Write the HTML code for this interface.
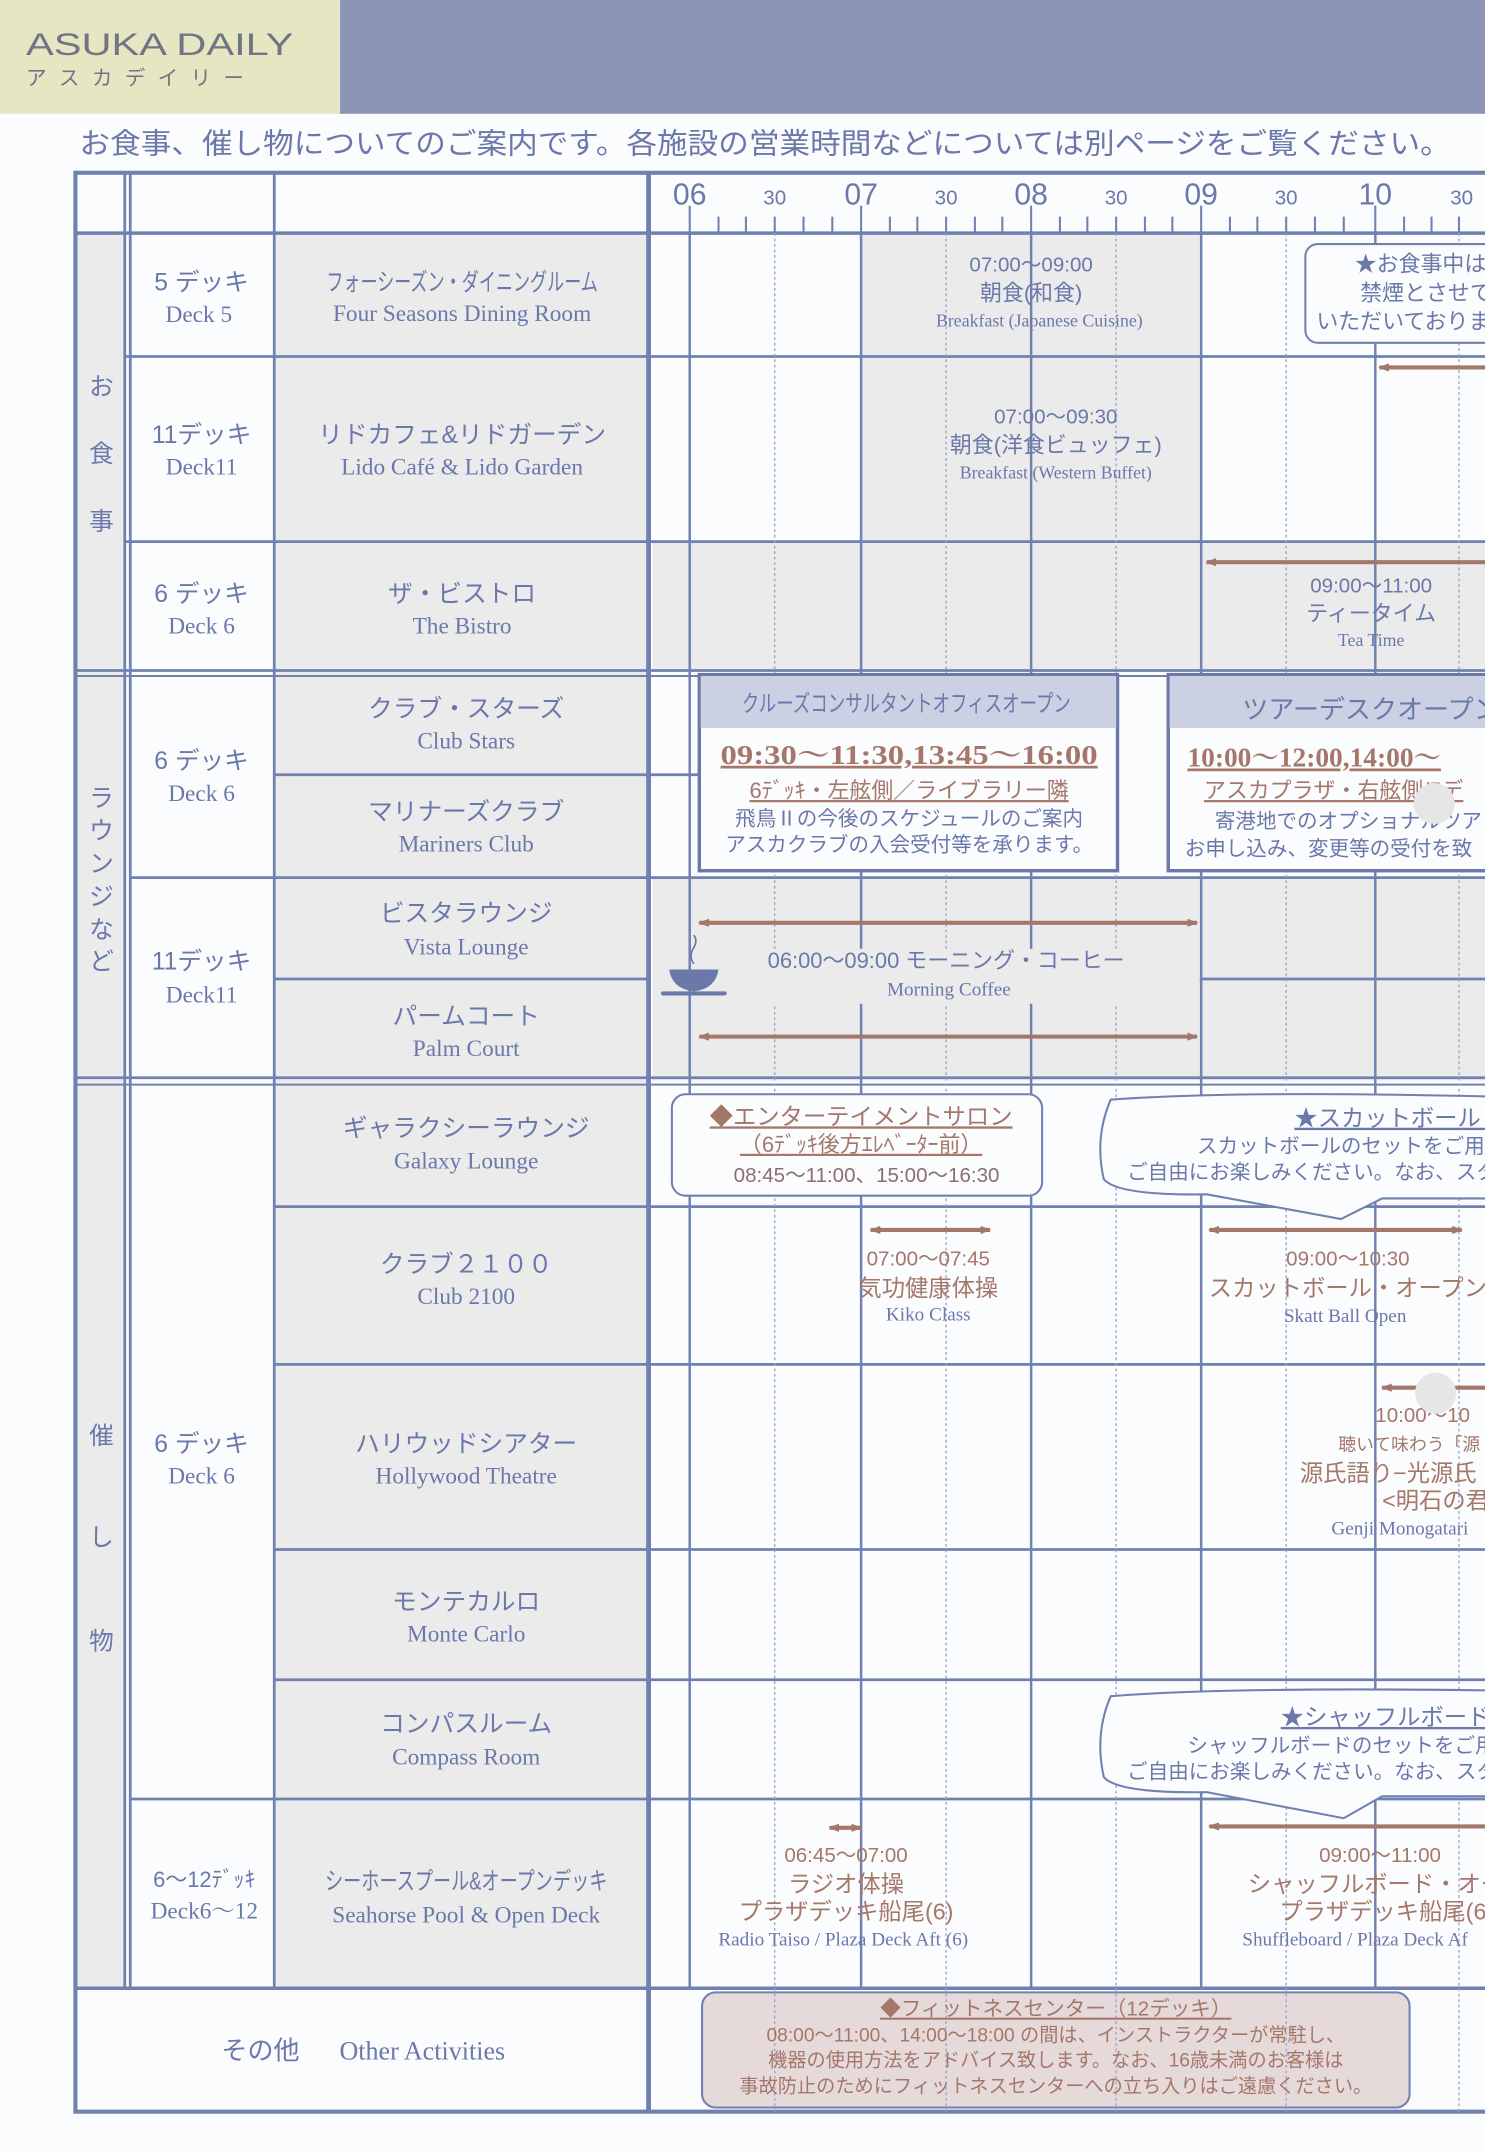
<!DOCTYPE html>
<html><head><meta charset="utf-8"><style>
html,body{margin:0;padding:0;background:#fbfcfe;}
svg{display:block;}
.j{font-family:"Liberation Sans","Noto Sans CJK JP",sans-serif;}
.s{font-family:"Liberation Serif","Noto Serif CJK SC",serif;}
</style></head><body>
<svg width="1485" height="2151" viewBox="0 0 1083 1568.7" preserveAspectRatio="none" xmlns="http://www.w3.org/2000/svg">
<defs>
<marker id="ah" markerWidth="8" markerHeight="6" refX="7" refY="3" orient="auto-start-reverse" markerUnits="userSpaceOnUse"><path d="M0,0 L8,3 L0,6 Z" fill="#a5776a"/></marker>
</defs>
<rect x="0" y="0" width="1083" height="1569" fill="#fbfcfe"/>
<rect x="0" y="0" width="248" height="83" fill="#e6e6c3"/>
<rect x="248" y="0" width="835" height="83" fill="#8c95b5"/>
<text x="19" y="40" class="j" font-size="23" fill="#707585" textLength="195" lengthAdjust="spacingAndGlyphs">ASUKA DAILY</text>
<text x="19" y="62" class="j" font-size="15" fill="#707585" letter-spacing="9">アスカデイリー</text>
<text x="58" y="112" class="j" font-size="21" fill="#6a78aa" textLength="1000" lengthAdjust="spacingAndGlyphs">お食事、催し物についてのご案内です。各施設の営業時間などについては別ページをご覧ください。</text>

<g fill="#ebebec">
<rect x="55" y="170" width="36" height="1280"/>
<rect x="200" y="170" width="272" height="1280"/>
<rect x="628" y="170" width="248" height="90"/>
<rect x="628" y="260" width="248" height="135"/>
<rect x="476" y="395" width="607" height="95"/>
<rect x="476" y="640" width="607" height="148"/>
<rect x="512" y="1453" width="516" height="84" rx="10" fill="#e6d9d9"/>
</g>
<rect x="55" y="1450" width="36" height="90" fill="#fbfcfe"/>
<rect x="91" y="1450" width="381" height="90" fill="#fbfcfe"/>

<g stroke="#7080b0" fill="none">
<rect x="55" y="126" width="1040" height="1414" stroke-width="3"/>
<line x1="91" y1="126" x2="91" y2="1450" stroke-width="2"/>
<line x1="95" y1="126" x2="95" y2="1450" stroke-width="2"/>
<line x1="200" y1="126" x2="200" y2="1450" stroke-width="2"/>
<line x1="473" y1="126" x2="473" y2="1540" stroke-width="3.5"/>
<line x1="55" y1="170" x2="1083" y2="170" stroke-width="2.5"/>
<line x1="91" y1="260" x2="1083" y2="260" stroke-width="2"/>
<line x1="91" y1="395" x2="1083" y2="395" stroke-width="2"/>
<line x1="55" y1="489" x2="1083" y2="489" stroke-width="2"/>
<line x1="55" y1="493" x2="1083" y2="493" stroke-width="1.5"/>
<line x1="200" y1="565" x2="510" y2="565" stroke-width="2"/>
<line x1="95" y1="640" x2="1083" y2="640" stroke-width="2"/>
<line x1="200" y1="714" x2="472" y2="714" stroke-width="2"/>
<line x1="875" y1="714" x2="1083" y2="714" stroke-width="2"/>
<line x1="55" y1="786" x2="1083" y2="786" stroke-width="2"/>
<line x1="55" y1="791" x2="1083" y2="791" stroke-width="1.5"/>
<line x1="200" y1="880" x2="1083" y2="880" stroke-width="2"/>
<line x1="200" y1="995" x2="1083" y2="995" stroke-width="2"/>
<line x1="200" y1="1130" x2="1083" y2="1130" stroke-width="2"/>
<line x1="200" y1="1225" x2="1083" y2="1225" stroke-width="2"/>
<line x1="95" y1="1312" x2="1083" y2="1312" stroke-width="2"/>
<line x1="55" y1="1450" x2="1083" y2="1450" stroke-width="2.5"/>
<g stroke-width="1.8">
<line x1="503" y1="170" x2="503" y2="1450"/><line x1="628" y1="170" x2="628" y2="1450"/>
<line x1="752" y1="170" x2="752" y2="1450"/><line x1="876" y1="170" x2="876" y2="1450"/>
<line x1="1003" y1="170" x2="1003" y2="1450"/>
</g>
<g stroke-width="1" stroke-dasharray="2,2" stroke="#9aa5cc">
<line x1="565" y1="170" x2="565" y2="1540"/><line x1="690" y1="170" x2="690" y2="1540"/>
<line x1="814" y1="170" x2="814" y2="1540"/><line x1="938" y1="170" x2="938" y2="1540"/>
<line x1="1064" y1="170" x2="1064" y2="1540"/>
</g>
<g stroke-width="1.5">
<line x1="503" y1="150" x2="503" y2="170"/><line x1="628" y1="150" x2="628" y2="170"/>
<line x1="752" y1="150" x2="752" y2="170"/><line x1="876" y1="150" x2="876" y2="170"/>
<line x1="1003" y1="150" x2="1003" y2="170"/>
<line x1="524" y1="158" x2="524" y2="170"/><line x1="544" y1="158" x2="544" y2="170"/><line x1="565" y1="158" x2="565" y2="170"/><line x1="586" y1="158" x2="586" y2="170"/><line x1="607" y1="158" x2="607" y2="170"/>
<line x1="649" y1="158" x2="649" y2="170"/><line x1="669" y1="158" x2="669" y2="170"/><line x1="690" y1="158" x2="690" y2="170"/><line x1="711" y1="158" x2="711" y2="170"/><line x1="731" y1="158" x2="731" y2="170"/>
<line x1="773" y1="158" x2="773" y2="170"/><line x1="793" y1="158" x2="793" y2="170"/><line x1="814" y1="158" x2="814" y2="170"/><line x1="835" y1="158" x2="835" y2="170"/><line x1="855" y1="158" x2="855" y2="170"/>
<line x1="897" y1="158" x2="897" y2="170"/><line x1="917" y1="158" x2="917" y2="170"/><line x1="938" y1="158" x2="938" y2="170"/><line x1="959" y1="158" x2="959" y2="170"/><line x1="980" y1="158" x2="980" y2="170"/>
<line x1="1024" y1="158" x2="1024" y2="170"/><line x1="1044" y1="158" x2="1044" y2="170"/><line x1="1064" y1="158" x2="1064" y2="170"/>
</g>
</g>

<g class="j" fill="#6a78aa" text-anchor="middle">
<text x="503" y="149" font-size="22">06</text><text x="628" y="149" font-size="22">07</text>
<text x="752" y="149" font-size="22">08</text><text x="876" y="149" font-size="22">09</text>
<text x="1003" y="149" font-size="22">10</text>
<text x="565" y="149" font-size="15">30</text><text x="690" y="149" font-size="15">30</text>
<text x="814" y="149" font-size="15">30</text><text x="938" y="149" font-size="15">30</text>
<text x="1066" y="149" font-size="15">30</text>
</g>

<g class="j" fill="#6a78aa" font-size="18" text-anchor="middle">
<text x="74" y="288">お</text><text x="74" y="337">食</text><text x="74" y="386">事</text>
<text x="74" y="588">ラ</text><text x="74" y="612">ウ</text><text x="74" y="636">ン</text><text x="74" y="660">ジ</text><text x="74" y="684">な</text><text x="74" y="707">ど</text>
<text x="74" y="1053">催</text><text x="74" y="1127">し</text><text x="74" y="1203">物</text>
</g>

<g fill="#6a78aa" text-anchor="middle">
<g class="j" font-size="18">
<text x="147" y="212">5 デッキ</text><text x="147" y="323">11デッキ</text><text x="147" y="439">6 デッキ</text>
<text x="147" y="561">6 デッキ</text><text x="147" y="707">11デッキ</text><text x="147" y="1059">6 デッキ</text>
<text x="149" y="1376" font-size="16">6〜12ﾃﾞｯｷ</text>
</g>
<g class="s" font-size="17">
<text x="145" y="235">Deck 5</text><text x="147" y="346">Deck11</text><text x="147" y="462">Deck 6</text>
<text x="147" y="584">Deck 6</text><text x="147" y="731">Deck11</text><text x="147" y="1082">Deck 6</text>
<text x="149" y="1399">Deck6〜12</text>
</g>
</g>

<g fill="#6a78aa" text-anchor="middle">
<g class="j" font-size="18">
<text x="337" y="212" textLength="198" lengthAdjust="spacingAndGlyphs">フォーシーズン・ダイニングルーム</text>
<text x="337" y="323">リドカフェ&amp;リドガーデン</text>
<text x="337" y="439">ザ・ビストロ</text>
<text x="340" y="523">クラブ・スターズ</text>
<text x="340" y="598">マリナーズクラブ</text>
<text x="340" y="672">ビスタラウンジ</text>
<text x="340" y="747">パームコート</text>
<text x="340" y="829">ギャラクシーラウンジ</text>
<text x="340" y="928">クラブ２１００</text>
<text x="340" y="1059">ハリウッドシアター</text>
<text x="340" y="1174">モンテカルロ</text>
<text x="340" y="1263">コンパスルーム</text>
<text x="340" y="1378" textLength="206" lengthAdjust="spacingAndGlyphs">シーホースプール&amp;オープンデッキ</text>
</g>
<g class="s" font-size="17">
<text x="337" y="234">Four Seasons Dining Room</text>
<text x="337" y="346">Lido Café &amp; Lido Garden</text>
<text x="337" y="462">The Bistro</text>
<text x="340" y="546">Club Stars</text>
<text x="340" y="621">Mariners Club</text>
<text x="340" y="696">Vista Lounge</text>
<text x="340" y="770">Palm Court</text>
<text x="340" y="852">Galaxy Lounge</text>
<text x="340" y="951">Club 2100</text>
<text x="340" y="1082">Hollywood Theatre</text>
<text x="340" y="1197">Monte Carlo</text>
<text x="340" y="1287">Compass Room</text>
<text x="340" y="1402">Seahorse Pool &amp; Open Deck</text>
</g>
<text x="190" y="1502" class="j" font-size="19">その他</text>
<text x="308" y="1502" class="s" font-size="19">Other Activities</text>
</g>

<g fill="#6a78aa" text-anchor="middle">
<text x="752" y="198" class="j" font-size="15">07:00〜09:00</text>
<text x="752" y="219" class="j" font-size="16">朝食(和食)</text>
<text x="758" y="238" class="s" font-size="13">Breakfast (Japanese Cuisine)</text>
<text x="770" y="309" class="j" font-size="15">07:00〜09:30</text>
<text x="770" y="330" class="j" font-size="16">朝食(洋食ビュッフェ)</text>
<text x="770" y="349" class="s" font-size="13">Breakfast (Western Buffet)</text>
<text x="1000" y="432" class="j" font-size="15">09:00〜11:00</text>
<text x="1000" y="453" class="j" font-size="16">ティータイム</text>
<text x="1000" y="471" class="s" font-size="13">Tea Time</text>
</g>
<rect x="952" y="178" width="140" height="72" rx="9" fill="#fbfcfe" stroke="#7080b0" stroke-width="1.5"/>
<g class="j" fill="#6a78aa" font-size="16">
<text x="988" y="198">★お食事中は</text><text x="992" y="219">禁煙とさせて</text><text x="960" y="240">いただいております</text>
</g>
<g stroke="#a5776a" stroke-width="3" marker-start="url(#ah)" marker-end="url(#ah)">
<line x1="1006" y1="268" x2="1100" y2="268"/>
<line x1="880" y1="410" x2="1100" y2="410"/>
<line x1="510" y1="673" x2="873" y2="673"/>
<line x1="510" y1="756" x2="873" y2="756"/>
<line x1="635" y1="897" x2="722" y2="897"/>
<line x1="882" y1="897" x2="1066" y2="897"/>
<line x1="1008" y1="1012" x2="1100" y2="1012"/>
<line x1="605" y1="1333" x2="628" y2="1333"/>
<line x1="882" y1="1332" x2="1100" y2="1332"/>
</g>

<rect x="510" y="492" width="305" height="143" fill="#fbfcfe" stroke="#6a78aa" stroke-width="2.5"/>
<rect x="511" y="493" width="303" height="38" fill="#cbd1e2"/>
<rect x="852" y="492" width="250" height="143" fill="#fbfcfe" stroke="#6a78aa" stroke-width="2.5"/>
<rect x="853" y="493" width="249" height="38" fill="#cbd1e2"/>
<g class="j" text-anchor="middle">
<text x="661" y="519" font-size="17" fill="#6a78aa" textLength="240" lengthAdjust="spacingAndGlyphs">クルーズコンサルタントオフィスオープン</text>
<text x="663" y="557" font-size="20" fill="#a5776a" font-weight="bold" text-decoration="underline" class="s" textLength="275" lengthAdjust="spacingAndGlyphs">09:30〜11:30,13:45〜16:00</text>
<text x="663" y="582" font-size="16" fill="#a5776a" text-decoration="underline">6ﾃﾞｯｷ・左舷側／ライブラリー隣</text>
<text x="663" y="602" font-size="15" fill="#6a78aa">飛鳥Ⅱの今後のスケジュールのご案内</text>
<text x="663" y="621" font-size="15" fill="#6a78aa">アスカクラブの入会受付等を承ります。</text>
</g>
<g class="j">
<text x="906" y="524" font-size="19" fill="#6a78aa">ツアーデスクオープン</text>
<text x="866" y="559" font-size="20" fill="#a5776a" font-weight="bold" text-decoration="underline" class="s">10:00〜12:00,14:00〜</text>
<text x="878" y="582" font-size="16" fill="#a5776a" text-decoration="underline">アスカプラザ・右舷側/5デ</text>
<text x="886" y="604" font-size="15" fill="#6a78aa">寄港地でのオプショナルツア</text>
<text x="864" y="624" font-size="15" fill="#6a78aa">お申し込み、変更等の受付を致</text>
</g>
<g fill="#6a78aa">
<path d="M488,707 h36 q-2,14 -18,16 q-16,-2 -18,-16z"/>
<rect x="482" y="723" width="48" height="3" rx="1.5"/>
<path d="M506,703 q-4,-6 0,-12 q3,-5 0,-9" stroke="#6a78aa" fill="none" stroke-width="1.2"/>
</g>
<rect x="530" y="692" width="310" height="40" fill="#ebebec"/>
<text x="690" y="706" class="j" font-size="16" fill="#6a78aa" text-anchor="middle">06:00〜09:00 モーニング・コーヒー</text>
<text x="692" y="726" class="s" font-size="14" fill="#6a78aa" text-anchor="middle">Morning  Coffee</text>

<rect x="490" y="798" width="270" height="74" rx="10" fill="#fbfcfe" stroke="#7080b0" stroke-width="1.5"/>
<g class="j" text-anchor="middle" fill="#a5776a">
<text x="628" y="820" font-size="17" text-decoration="underline">◆エンターテイメントサロン</text>
<text x="628" y="840" font-size="16" text-decoration="underline">（6ﾃﾞｯｷ後方ｴﾚﾍﾞｰﾀｰ前）</text>
<text x="632" y="862" font-size="15" fill="#8a6e70">08:45〜11:00、15:00〜16:30</text>
</g>
<path d="M810,802 Q900,795 1100,800 L1100,874 L1008,874 L978,889 L880,871 Q815,872 805,860 Q798,830 810,802Z" fill="#fbfcfe" stroke="#7080b0" stroke-width="1.5"/>
<g class="j" fill="#6a78aa">
<text x="944" y="821" font-size="17" text-decoration="underline">★スカットボール・</text>
<text x="873" y="841" font-size="15">スカットボールのセットをご用意</text>
<text x="822" y="860" font-size="15">ご自由にお楽しみください。なお、スタ</text>
</g>
<g class="j" text-anchor="middle" fill="#a5776a">
<text x="677" y="923" font-size="15">07:00〜07:45</text>
<text x="677" y="945" font-size="17">気功健康体操</text>
<text x="677" y="963" font-size="14" class="s" fill="#6a78aa">Kiko Class</text>
<text x="983" y="923" font-size="15">09:00〜10:30</text>
<text x="983" y="945" font-size="17">スカットボール・オープン</text>
<text x="981" y="964" font-size="14" class="s" fill="#6a78aa">Skatt Ball Open</text>
</g>
<g class="j" fill="#a5776a">
<text x="1003" y="1037" font-size="15">10:00〜10</text>
<text x="976" y="1058" font-size="13">聴いて味わう「源</text>
<text x="948" y="1080" font-size="17">源氏語り−光源氏</text>
<text x="1008" y="1100" font-size="17">&lt;明石の君</text>
<text x="971" y="1119" font-size="14" class="s" fill="#6a78aa">Genji Monogatari</text>
</g>
<circle cx="1047" cy="1016" r="15" fill="#e6e6e6"/>
<circle cx="1046" cy="586" r="15" fill="#e6e6e6"/>
<path d="M810,1237 Q900,1230 1100,1233 L1100,1310 L1008,1310 L980,1326 L880,1307 Q815,1308 805,1296 Q798,1265 810,1237Z" fill="#fbfcfe" stroke="#7080b0" stroke-width="1.5"/>
<g class="j" fill="#6a78aa">
<text x="934" y="1258" font-size="17" text-decoration="underline">★シャッフルボード</text>
<text x="866" y="1278" font-size="15">シャッフルボードのセットをご用</text>
<text x="822" y="1297" font-size="15">ご自由にお楽しみください。なお、スタ</text>
</g>
<g class="j" text-anchor="middle" fill="#a5776a">
<text x="617" y="1358" font-size="15">06:45〜07:00</text>
<text x="617" y="1380" font-size="17">ラジオ体操</text>
<text x="617" y="1400" font-size="17">プラザデッキ船尾(6)</text>
<text x="615" y="1419" font-size="14" class="s" fill="#6a78aa">Radio Taiso / Plaza Deck Aft (6)</text>
</g>
<g class="j" fill="#a5776a">
<text x="962" y="1358" font-size="15">09:00〜11:00</text>
<text x="910" y="1380" font-size="17">シャッフルボード・オー</text>
<text x="933" y="1400" font-size="17">プラザデッキ船尾(6</text>
<text x="906" y="1419" font-size="14" class="s" fill="#6a78aa">Shuffleboard / Plaza Deck Af</text>
</g>
<rect x="512" y="1453" width="516" height="84" rx="10" fill="none" stroke="#7080b0" stroke-width="1.5"/>
<g class="j" text-anchor="middle" fill="#a5776a">
<text x="770" y="1470" font-size="15" text-decoration="underline">◆フィットネスセンター（12デッキ）</text>
<text x="770" y="1489" font-size="14">08:00〜11:00、14:00〜18:00 の間は、インストラクターが常駐し、</text>
<text x="770" y="1507" font-size="14">機器の使用方法をアドバイス致します。なお、16歳未満のお客様は</text>
<text x="770" y="1526" font-size="14">事故防止のためにフィットネスセンターへの立ち入りはご遠慮ください。</text>
</g>
</svg>
</body></html>
